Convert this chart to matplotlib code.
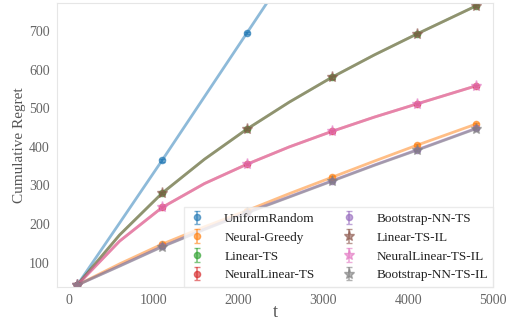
import numpy as np
import matplotlib
matplotlib.use("Agg")
import matplotlib.pyplot as plt

plt.rcParams["font.family"] = ["Liberation Serif", "DejaVu Serif"]

# time steps, markers drawn on every other one + last
t = [100, 600, 1100, 1600, 2100, 2600, 3100, 3600, 4100, 4800]
mark_idx = [0, 2, 4, 6, 8, 9]

uniform_random = [42, 203, 365, 530, 695, 860, 1025, 1190, 1355, 1585]
neural_greedy = [42, 97, 148, 193, 235, 279, 321, 363, 404, 459]
linear_ts = [42, 172, 280, 368, 446, 516, 580, 638, 692, 765]
neurallinear_ts = [42, 156, 243, 305, 355, 400, 440, 477, 511, 558]
bootstrap_nn_ts = [42, 92, 142, 187, 230, 271, 312, 353, 392, 448]
linear_ts_il = linear_ts
neurallinear_ts_il = neurallinear_ts
bootstrap_nn_ts_il = [42, 91, 141, 186, 229, 270, 311, 352, 391, 447]

labels = ["UniformRandom", "Neural-Greedy", "Linear-TS", "NeuralLinear-TS",
          "Bootstrap-NN-TS", "Linear-TS-IL", "NeuralLinear-TS-IL", "Bootstrap-NN-TS-IL"]
series = [uniform_random, neural_greedy, linear_ts, neurallinear_ts,
          bootstrap_nn_ts, linear_ts_il, neurallinear_ts_il, bootstrap_nn_ts_il]
markers = ["o", "o", "o", "o", "o", "*", "*", "*"]
err = 3.0

fig, ax = plt.subplots(figsize=(5.12, 3.21), dpi=100)
for i, (lab, ys, mk) in enumerate(zip(labels, series, markers)):
    ys = np.array(ys, dtype=float)
    ms = 4.5 if mk == "o" else 8
    ax.plot(t, ys, color=f"C{i}", lw=2, alpha=0.5)
    tm = [t[k] for k in mark_idx]
    ym = ys[mark_idx]
    ax.errorbar(tm, ym, yerr=np.full(len(ym), err), fmt=mk, color=f"C{i}",
                markersize=ms, alpha=0.6, capsize=2.5, elinewidth=1.2, label=lab)

ax.set_xlim(-140, 4990)
ax.set_ylim(38, 772)
ax.set_xticks([0, 1000, 2000, 3000, 4000, 5000])
ax.set_yticks([100, 200, 300, 400, 500, 600, 700])
ax.tick_params(length=0, labelsize=10, labelcolor="#666666", pad=5)
for s in ax.spines.values():
    s.set_color("#e6e6e6")
ax.set_xlabel("t", fontsize=13, color="#555555", labelpad=-2)
ax.set_ylabel("Cumulative Regret", fontsize=11, color="#555555", labelpad=2)

leg = ax.legend(loc="lower right", ncol=2, fontsize=9.5, borderaxespad=0,
                frameon=True, framealpha=0.8, edgecolor="#e6e6e6", fancybox=False,
                handlelength=1.2, handletextpad=1.45, columnspacing=2.0,
                labelspacing=0.5, borderpad=0.4)
for txt in leg.get_texts():
    txt.set_color("#222222")

fig.subplots_adjust(left=0.111, right=0.963, top=0.99, bottom=0.107)
fig.savefig("out.png", dpi=100)
